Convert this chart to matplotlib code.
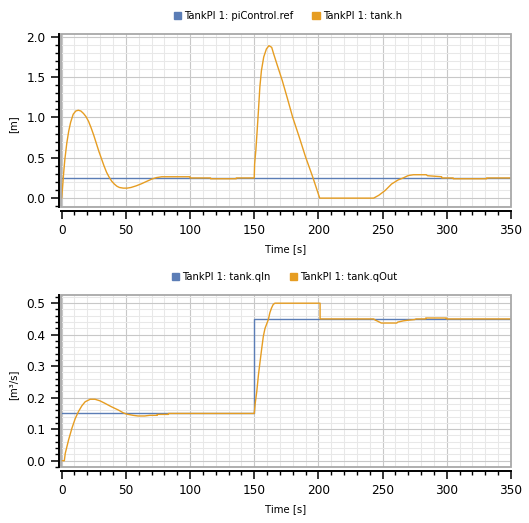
import matplotlib
matplotlib.use("Agg")
import matplotlib.pyplot as plt
from matplotlib.patches import Patch, Rectangle
from matplotlib.ticker import MultipleLocator, FormatStrFormatter

plt.rcParams['font.family'] = ['DejaVu Sans']

# top plot: tank level and reference
t_ref = [0, 350]
ref = [0.25, 0.25]

t_h = [0, 0.8, 1.5, 2.5, 4, 5.5, 7, 9, 11, 13,
       15, 17, 19, 21, 23, 25, 27, 29, 31, 33,
       35, 37, 39, 41, 43, 45, 48, 51, 54, 58,
       62, 66, 70, 74, 78, 100, 100, 116, 116, 136,
       136, 150, 150.3, 151.3, 152.3, 153.3, 154.4, 155.6, 157.4, 159.5,
       161.5, 163.6, 165.1, 167.7, 171.8, 175.6, 180, 185, 190, 195.4,
       201, 243, 247, 252, 257, 262, 266, 270, 274, 284,
       285, 296, 296, 305, 305, 331, 331, 350]
h = [0, 0.15, 0.3, 0.48, 0.68, 0.83, 0.94, 1.04, 1.08, 1.09,
     1.08, 1.05, 1.01, 0.95, 0.87, 0.78, 0.68, 0.58, 0.49, 0.40,
     0.32, 0.26, 0.21, 0.175, 0.148, 0.132, 0.124, 0.124, 0.132, 0.152,
     0.177, 0.206, 0.235, 0.255, 0.265, 0.265, 0.25, 0.25, 0.24, 0.24,
     0.25, 0.25, 0.42, 0.6, 0.84, 1.09, 1.38, 1.58, 1.75, 1.85,
     1.89, 1.87, 1.79, 1.66, 1.46, 1.25, 1.0, 0.76, 0.51, 0.27,
     0.0, 0.0, 0.035, 0.095, 0.175, 0.225, 0.25, 0.28, 0.29, 0.29,
     0.278, 0.265, 0.25, 0.25, 0.24, 0.24, 0.25, 0.25]

# bottom plot: flows
t_qin = [0, 150, 150, 350]
qin = [0.15, 0.15, 0.45, 0.45]

t_qout = [0, 2.1, 2.8, 5.4, 8, 10.6, 13.1, 15.7, 18.3, 22.2,
          26, 29.9, 33.8, 38.9, 44.1, 48, 50.5, 55.7, 59.5, 64.7,
          68.6, 74.5, 74.5, 83.2, 83.2, 150, 150.8, 152, 153.3, 154.6,
          155.9, 157.1, 158.4, 161, 162.2, 163.5, 164.8, 166.1, 201.3, 201.3,
          243, 244.4, 245.6, 249, 261, 261.8, 266.2, 270, 275, 276,
          283.6, 283.6, 299.7, 299.7, 350]
qout = [0, 0, 0.023, 0.066, 0.103, 0.134, 0.156, 0.174, 0.187, 0.195,
        0.195, 0.19, 0.182, 0.171, 0.161, 0.152, 0.148, 0.144, 0.142, 0.142,
        0.144, 0.144, 0.147, 0.147, 0.15, 0.15, 0.183, 0.22, 0.273, 0.316,
        0.358, 0.395, 0.42, 0.448, 0.47, 0.485, 0.496, 0.5, 0.5, 0.45,
        0.45, 0.446, 0.444, 0.437, 0.437, 0.44, 0.444, 0.446, 0.448, 0.45,
        0.45, 0.453, 0.453, 0.45, 0.45]

BLUE = '#5b7db6'
ORANGE = '#e69d22'
W, H = 529, 523


def style(ax, ymaj, ymin, ylabel, ylim):
    ax.set_xlim(-0.5, 350)
    ax.set_ylim(*ylim)
    for s in ['top', 'right']:
        ax.spines[s].set_visible(False)
    for s in ['left', 'bottom']:
        ax.spines[s].set_color('black')
        ax.spines[s].set_linewidth(1.4)
    ax.spines['left'].set_position(('outward', 1.8))
    ax.spines['bottom'].set_position(('outward', 3.2))
    ax.add_patch(Rectangle((0, 0), 1, 1, transform=ax.transAxes, fill=False,
                           edgecolor='#a8a8a8', lw=1.3, clip_on=False, zorder=5))
    ax.xaxis.set_major_locator(MultipleLocator(50))
    ax.xaxis.set_minor_locator(MultipleLocator(10))
    ax.yaxis.set_major_locator(MultipleLocator(ymaj))
    ax.yaxis.set_minor_locator(MultipleLocator(ymin))
    ax.yaxis.set_major_formatter(FormatStrFormatter('%.1f'))
    ax.tick_params(which='major', direction='out', length=5.5, width=1.1,
                   labelsize=8.7, pad=3.8, colors='black')
    ax.tick_params(which='minor', direction='out', length=3, width=1.0)
    ax.grid(which='minor', color='#e8e8e8', lw=0.75)
    ax.grid(which='major', color='#c8c8c8', lw=0.8)
    ax.set_axisbelow(True)
    ax.set_xlabel('Time [s]', fontsize=7.3, va='center')
    ax.xaxis.set_label_coords(0.5, -0.245)
    ax.set_ylabel(ylabel, fontsize=7.3, va='center')
    ax.yaxis.set_label_coords(-0.107, 0.48)


fig = plt.figure(figsize=(W / 100, H / 100), dpi=100)

ax1 = fig.add_axes([61 / W, 1 - 207 / H, 450 / W, 173 / H])
ax1.plot(t_ref, ref, color=BLUE, lw=1.0)
ax1.plot(t_h, h, color=ORANGE, lw=1.0)
style(ax1, 0.5, 0.1, '[m]', (-0.11, 2.035))

ax2 = fig.add_axes([61 / W, 1 - 467 / H, 450 / W, 172 / H])
ax2.plot(t_qin, qin, color=BLUE, lw=1.0)
ax2.plot(t_qout, qout, color=ORANGE, lw=1.0)
style(ax2, 0.1, 0.02, '[m³/s]', (-0.02, 0.526))

legend_kw = dict(ncol=2, loc='center', frameon=False, fontsize=7.2,
                 handlelength=0.75, handleheight=0.75, handletextpad=0.3,
                 columnspacing=1.9, borderpad=0)
fig.legend(handles=[Patch(color=BLUE, label='TankPI 1: piControl.ref'),
                    Patch(color=ORANGE, label='TankPI 1: tank.h')],
           bbox_to_anchor=(287.7 / W, 1 - 15.8 / H), **legend_kw)
fig.legend(handles=[Patch(color=BLUE, label='TankPI 1: tank.qIn'),
                    Patch(color=ORANGE, label='TankPI 1: tank.qOut')],
           bbox_to_anchor=(284.7 / W, 1 - 276.7 / H), **legend_kw)

fig.savefig('out.png', dpi=100)
